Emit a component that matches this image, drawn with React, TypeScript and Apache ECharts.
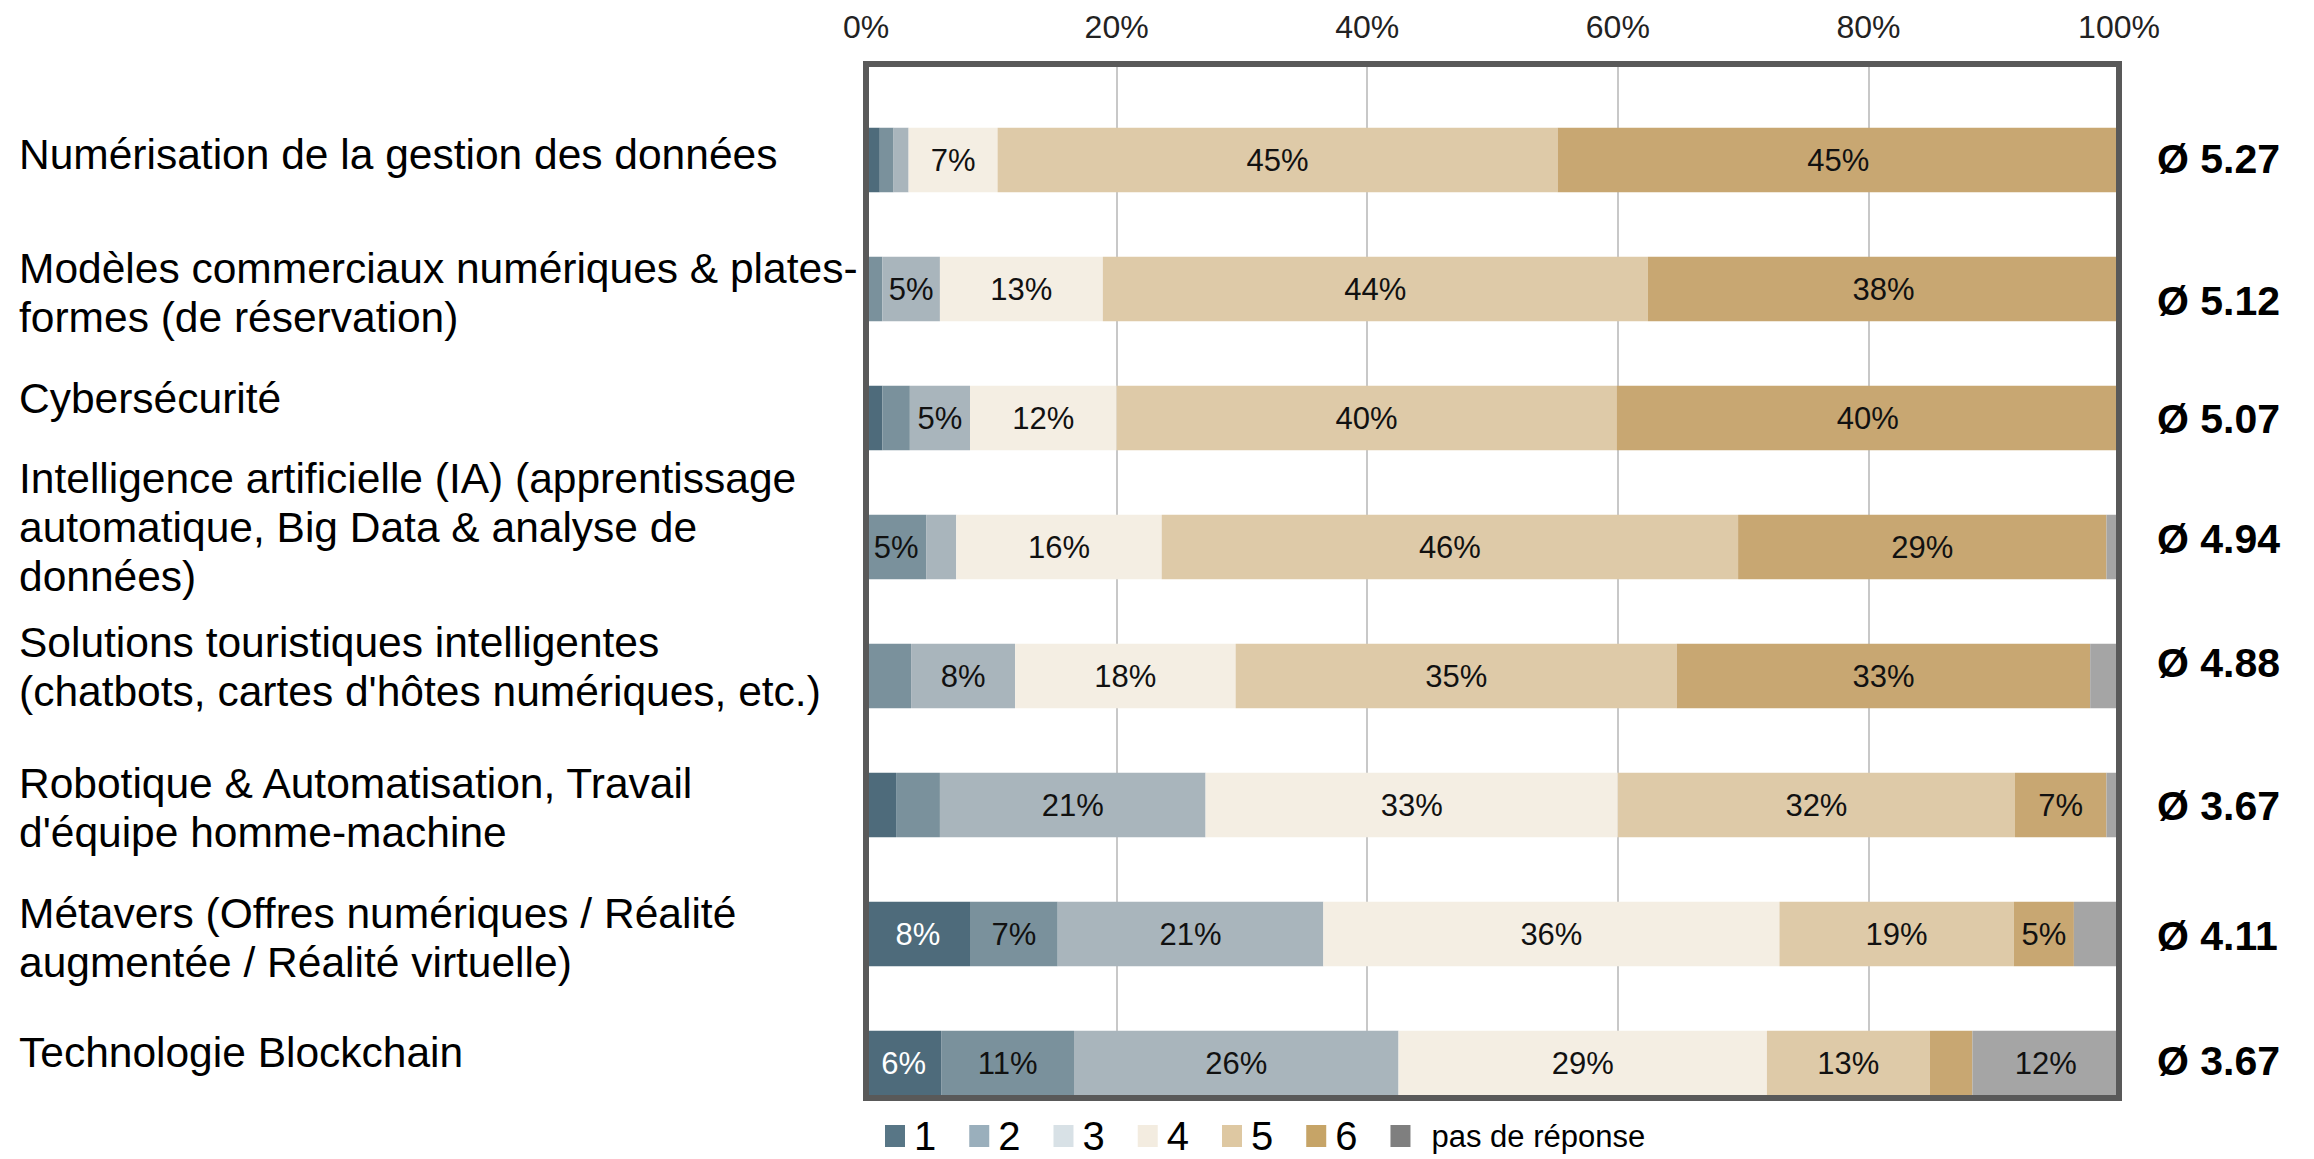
import React, { useEffect, useRef } from "react";
import * as echarts from "echarts";

const categories = [
  "Numérisation de la gestion des données",
  "Modèles commerciaux numériques & plates-\nformes (de réservation)",
  "Cybersécurité",
  "Intelligence artificielle (IA) (apprentissage\nautomatique, Big Data & analyse de\ndonnées)",
  "Solutions touristiques intelligentes\n(chatbots, cartes d'hôtes numériques, etc.)",
  "Robotique & Automatisation, Travail\nd'équipe homme-machine",
  "Métavers (Offres numériques / Réalité\naugmentée / Réalité virtuelle)",
  "Technologie Blockchain",
];

const seriesNames = ["1", "2", "3", "4", "5", "6", "pas de réponse"];

const s1 = [1.1, 0, 1.3, 0, 0, 2.4, 8.3, 6.0];
const s2 = [1.1, 1.3, 2.2, 4.8, 3.6, 3.5, 7.0, 10.6];
const s3 = [1.2, 4.6, 4.8, 2.4, 8.3, 21.2, 21.2, 25.9];
const s4 = [7.1, 13.0, 11.7, 16.4, 17.6, 32.9, 36.4, 29.4];
const s5 = [44.7, 43.5, 39.9, 46.0, 35.2, 31.7, 18.7, 13.0];
const s6 = [44.8, 37.6, 40.1, 29.4, 33.0, 7.3, 4.8, 3.4];
const sNA = [0, 0, 0, 1.0, 2.3, 1.0, 3.6, 11.7];

const averages = [5.27, 5.12, 5.07, 4.94, 4.88, 3.67, 4.11, 3.67];

const xTicks = [0, 20, 40, 60, 80, 100];

// styling / layout
const barColors = ["#4e6b7b", "#7a919c", "#a9b5bc", "#f4eee3", "#decaa8", "#c8a772", "#a5a5a5"];
const legendColors = ["#587686", "#9aafbc", "#d8e1e6", "#f3ece0", "#dec8a2", "#c6a467", "#7f7f7f"];
const labelColors = ["#ffffff", "#111111", "#111111", "#111111", "#111111", "#111111", "#111111"];
const leftShift = [-6, 4, -20, -20, -9, 3, 4, -11];
const rightShift = [-1, 12, 1, -8, -13, 1, 2, -2];

const FONT = "'Liberation Sans', Arial, Helvetica, sans-serif";

export default function App() {
  const ref = useRef<HTMLDivElement>(null);

  useEffect(() => {
    if (!ref.current) return;
    const chart = echarts.init(ref.current, undefined, { renderer: "svg" });
    const allSeries = [s1, s2, s3, s4, s5, s6, sNA];

    const option: any = {
      animation: false,
      backgroundColor: "#ffffff",
      textStyle: { fontFamily: FONT },
      grid: [
        {
          left: 866,
          right: 195,
          top: 64,
          bottom: 61,
          show: true,
          borderColor: "#595959",
          borderWidth: 6,
          backgroundColor: "transparent",
          z: 10,
          containLabel: false,
          outerBoundsMode: "none",
        },
        {
          left: 866,
          right: 195,
          top: 95.5,
          bottom: 31.5,
          containLabel: false,
          outerBoundsMode: "none",
        },
      ],
      xAxis: [
        {
          gridIndex: 0,
          type: "value",
          position: "top",
          min: xTicks[0],
          max: xTicks[xTicks.length - 1],
          interval: xTicks[1] - xTicks[0],
          axisLine: { show: false },
          axisTick: { show: false },
          axisLabel: {
            formatter: "{value}%",
            fontSize: 32,
            color: "#222222",
            margin: 21,
            fontFamily: FONT,
          },
          splitLine: { show: true, lineStyle: { color: "#c8c8c8", width: 2 } },
        },
        { gridIndex: 1, type: "value", min: 0, max: 100, show: false },
      ],
      yAxis: [
        { gridIndex: 0, type: "value", show: false },
        {
          gridIndex: 1,
          type: "category",
          inverse: true,
          data: categories,
          axisLine: { show: false },
          axisTick: { show: false },
          splitLine: { show: false },
          axisLabel: { show: false },
        },
      ],
      legend: {
        left: 885,
        top: 1116,
        orient: "horizontal",
        icon: "rect",
        itemWidth: 20,
        itemHeight: 22,
        itemGap: 33,
        padding: 0,
        selectedMode: false,
        textStyle: { fontSize: 40, color: "#000000", fontFamily: FONT, padding: [0, 0, 0, 4] },
        data: seriesNames.map((n, i) => ({
          name: n,
          itemStyle: { color: legendColors[i] },
          textStyle:
            i === seriesNames.length - 1
              ? { fontSize: 31, padding: [0, 0, 0, 16], fontFamily: FONT, color: "#000000" }
              : { fontSize: 40, padding: [0, 0, 0, 4], fontFamily: FONT, color: "#000000" },
        })),
      },
      series: allSeries.map((vals, si) => ({
        name: seriesNames[si],
        type: "bar",
        stack: "total",
        xAxisIndex: 1,
        yAxisIndex: 1,
        barWidth: "50%",
        itemStyle: { color: barColors[si] },
        label: {
          show: true,
          position: "inside",
          fontSize: 31,
          color: labelColors[si],
          fontFamily: FONT,
          formatter: (p: any) => (p.value >= 4.5 ? Math.round(p.value) + "%" : ""),
        },
        data: vals,
      })),
    };

    chart.setOption(option);

    // category labels and averages, placed from the category axis
    const xRight = chart.convertToPixel({ xAxisIndex: 1 }, 100) as number;
    const graphics: any[] = [];
    categories.forEach((c, i) => {
      const y = chart.convertToPixel({ yAxisIndex: 1 }, c) as number;
      graphics.push({
        type: "text",
        x: 19,
        y: y + leftShift[i],
        z: 20,
        style: {
          text: c,
          fontSize: 42.5,
          fontFamily: FONT,
          lineHeight: 49,
          fill: "#000000",
          align: "left",
          verticalAlign: "middle",
        },
      });
      graphics.push({
        type: "text",
        x: xRight + 38,
        y: y + rightShift[i],
        z: 20,
        style: {
          text: "Ø " + averages[i].toFixed(2),
          fontSize: 41,
          fontWeight: "bold",
          fontFamily: FONT,
          fill: "#000000",
          align: "left",
          verticalAlign: "middle",
        },
      });
    });
    chart.setOption({ graphic: graphics });

    return () => chart.dispose();
  }, []);

  return (
    <div
      ref={ref}
      style={{ position: "absolute", left: 0, top: 0, width: 2314, height: 1159, background: "#fff" }}
    />
  );
}
